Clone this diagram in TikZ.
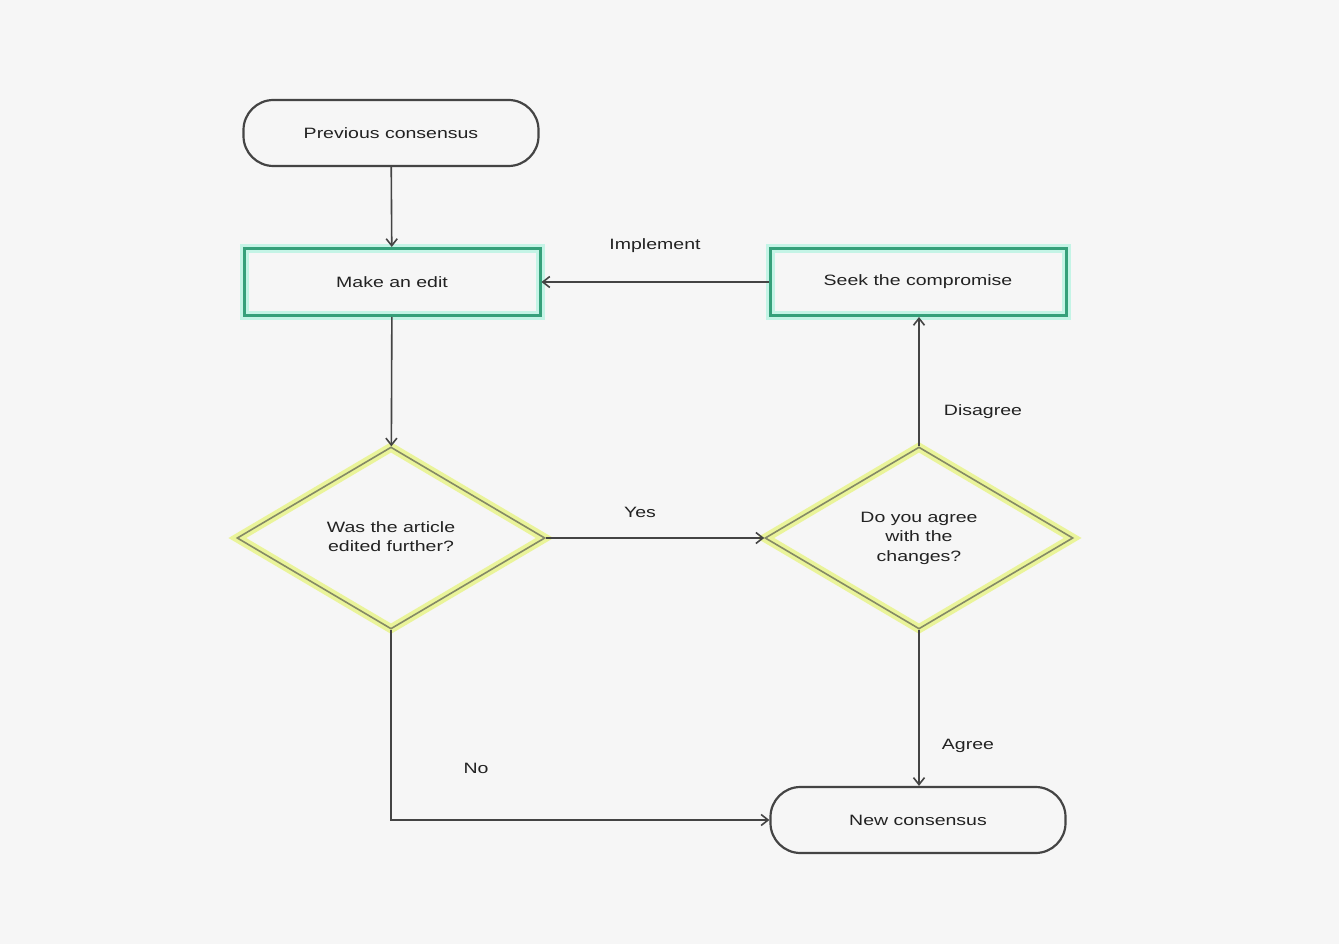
\documentclass[tikz,border=0pt]{standalone}
\usepackage{fontspec}
\setmainfont{Liberation Sans}
\usetikzlibrary{shapes.geometric,arrows.meta}
\definecolor{bgc}{HTML}{F6F6F6}
\definecolor{txt}{HTML}{222222}
\definecolor{edge}{HTML}{444444}
\definecolor{teal}{HTML}{35A07A}
\definecolor{tealglow}{HTML}{C4F4E6}
\definecolor{ygreen}{HTML}{858A66}
\definecolor{yglow}{HTML}{EAF49A}
\newcommand{\wt}[1]{\scalebox{1.3}[1]{#1}}
\newcommand{\ml}[1]{\wt{\begin{tabular}{@{}c@{}}#1\end{tabular}}}
\begin{document}
\begin{tikzpicture}[x=1pt,y=-1pt,
  every node/.style={font=\fontsize{15}{19.5}\selectfont, text=txt},
  terminal/.style={draw=edge, line width=2.2pt, rounded corners=30pt,
    minimum width=295pt, minimum height=66pt, inner sep=0pt},
  process/.style={preaction={draw=tealglow, line width=9pt}, draw=teal, line width=3pt,
    minimum width=296pt, minimum height=67pt, inner sep=0pt},
  decision/.style={diamond, aspect=1.7, preaction={draw=yglow, line width=9pt},
    draw=ygreen, line width=1.6pt, minimum width=308pt, minimum height=182pt, inner sep=0pt},
  conn/.style={draw=edge, line width=1.6pt, -{Straight Barb[length=7pt,width=11pt]}},
  lbl/.style={inner sep=1pt}
]
\fill[bgc] (0,0) rectangle (1339,944);
\useasboundingbox (0,0) rectangle (1339,944);

\node[terminal] (prev) at (391,133) {\wt{Previous consensus}};
\node[process] (edit) at (392,282) {\wt{Make an edit}};
\node[process] (seek) at (918,282) {\wt{Seek the compromise}};
\node[decision] (q1) at (391,538) {\raisebox{4pt}{\ml{Was the article\\edited further?}}};
\node[decision] (q2) at (919,538) {\ml{Do you agree\\with the\\changes?}};
\node[terminal] (newc) at (918,820) {\wt{New consensus}};

\draw[conn] (prev) -- (edit);
\draw[conn] (edit) -- (q1);
\draw[conn] (q1.east) -- (q2.west);
\draw[conn] (q2.north) -- (q2.north |- seek.south);
\draw[conn] (seek.west) -- (edit.east);
\draw[conn] (q2.south) -- (q2.south |- newc.north);
\draw[conn] (q1.south) |- (newc.west);

\node[lbl] (limp) at (655,246) {\wt{Implement}};
\node[lbl] (lyes) at (640,512) {\wt{Yes}};
\node[lbl] (lno) at (476,768) {\wt{No}};
\node[lbl] (ldis) at (983,412) {\wt{Disagree}};
\node[lbl] (lagr) at (968,746) {\wt{Agree}};
\end{tikzpicture}
\end{document}
